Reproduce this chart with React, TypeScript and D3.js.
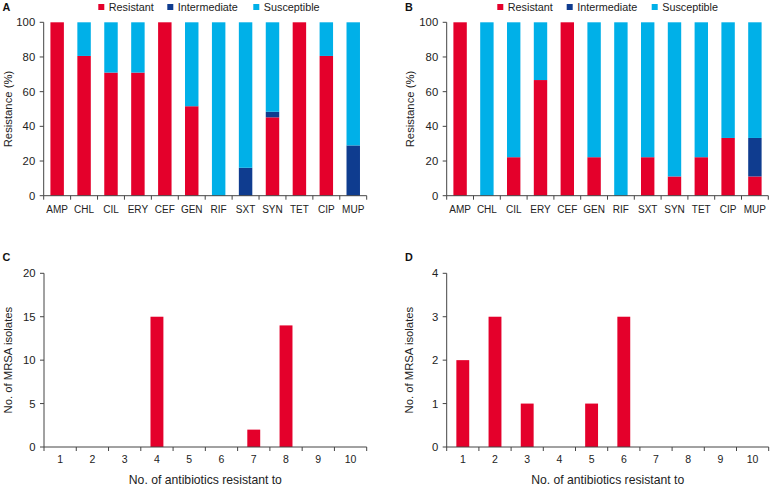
import React from "react";
import * as d3 from "d3";

const antibiotics = ["AMP", "CHL", "CIL", "ERY", "CEF", "GEN", "RIF", "SXT", "SYN", "TET", "CIP", "MUP"];
const aResistant = [100, 80.6, 71.0, 71.0, 100, 51.6, 0, 0, 45.2, 100, 80.6, 0];
const aIntermediate = [0, 0, 0, 0, 0, 0, 0, 16.1, 3.2, 0, 0, 29.0];
const bResistant = [100, 0, 22.2, 66.7, 100, 22.2, 0, 22.2, 11.1, 22.2, 33.3, 11.1];
const bIntermediate = [0, 0, 0, 0, 0, 0, 0, 0, 0, 0, 0, 22.2];
const resistCounts = ["1", "2", "3", "4", "5", "6", "7", "8", "9", "10"];
const cCounts = [0, 0, 0, 15, 0, 0, 2, 14, 0, 0];
const dCounts = [2, 3, 1, 0, 1, 3, 0, 0, 0, 0];
const legendItems = ["Resistant", "Intermediate", "Susceptible"];
const pctTicks = [0, 20, 40, 60, 80, 100];
const cTicks = [0, 5, 10, 15, 20];
const dTicks = [0, 1, 2, 3, 4];

const RED = "#e4002b";
const DARK = "#0f3c8f";
const LIGHT = "#00b0e8";
const AXIS = "#444";
const TEXT = "#222";
const FONT = "'Liberation Sans', Arial, Helvetica, sans-serif";

type Frame = { x0: number; x1: number; yTop: number; yBot: number };

function YAxis({ f, scale, ticks }: { f: Frame; scale: d3.ScaleLinear<number, number>; ticks: number[] }) {
  return (
    <g>
      <line x1={f.x0} x2={f.x0} y1={f.yTop} y2={f.yBot} stroke={AXIS} strokeWidth={1} />
      {ticks.map((t) => (
        <g key={t}>
          <line x1={f.x0 - 4} x2={f.x0} y1={scale(t)} y2={scale(t)} stroke={AXIS} strokeWidth={1} />
          <text x={f.x0 - 8.5} y={scale(t)} dy="0.36em" textAnchor="end" fontSize={11.3} fill={TEXT}>
            {t}
          </text>
        </g>
      ))}
    </g>
  );
}

function XAxis({ f, scale, labels, labelY, fontSize }: { f: Frame; scale: d3.ScaleBand<string>; labels: string[]; labelY: number; fontSize: number }) {
  const step = scale.step();
  const bounds = d3.range(labels.length + 1).map((i) => f.x0 + i * step);
  return (
    <g>
      <line x1={f.x0} x2={f.x1} y1={f.yBot} y2={f.yBot} stroke={AXIS} strokeWidth={1} />
      {bounds.map((b, i) => (
        <line key={i} x1={b} x2={b} y1={f.yBot} y2={f.yBot + 4} stroke={AXIS} strokeWidth={1} />
      ))}
      {labels.map((l) => (
        <text key={l} x={(scale(l) as number) + scale.bandwidth() / 2} y={labelY} textAnchor="middle" fontSize={fontSize} fill={TEXT}>
          {l}
        </text>
      ))}
    </g>
  );
}

function StackPanel({ f, resistant, intermediate, letter, legendX, yTitleX }: { f: Frame; resistant: number[]; intermediate: number[]; letter: string; legendX: number[]; yTitleX: number }) {
  const x = d3.scaleBand<string>().domain(antibiotics).range([f.x0, f.x1]).paddingInner(0.5).paddingOuter(0.25);
  const y = d3.scaleLinear().domain([0, 100]).range([f.yBot, f.yTop]);
  const rows = antibiotics.map((name, i) => ({ name, R: resistant[i], I: intermediate[i], S: 100 - resistant[i] - intermediate[i] }));
  const stack = d3.stack<any>().keys(["R", "I", "S"])(rows);
  const colors = [RED, DARK, LIGHT];
  return (
    <g>
      <text x={letter === "A" ? 2.5 : 405} y={10.7} fontSize={10.8} fontWeight="bold" fill="#111">
        {letter}
      </text>
      {legendItems.map((l, i) => (
        <g key={l}>
          <rect x={legendX[i]} y={4} width={6} height={6} fill={colors[i]} />
          <text x={legendX[i] + 10.5} y={10.7} fontSize={10.8} fill={TEXT}>
            {l}
          </text>
        </g>
      ))}
      {stack.map((layer, li) => (
        <g key={li} fill={colors[li]}>
          {layer.map((d, i) =>
            d[1] - d[0] > 0 ? (
              <rect key={i} x={x(antibiotics[i])} width={x.bandwidth()} y={y(d[1])} height={y(d[0]) - y(d[1])} />
            ) : null
          )}
        </g>
      ))}
      <YAxis f={f} scale={y} ticks={pctTicks} />
      <XAxis f={f} scale={x} labels={antibiotics} labelY={213.3} fontSize={10} />
      <text transform={`translate(${yTitleX},${(f.yTop + f.yBot) / 2}) rotate(-90)`} textAnchor="middle" fontSize={11.3} fill={TEXT}>
        Resistance (%)
      </text>
    </g>
  );
}

function CountPanel({ f, counts, ticks, letter, yTitleX, letterX }: { f: Frame; counts: number[]; ticks: number[]; letter: string; yTitleX: number; letterX: number }) {
  const x = d3.scaleBand<string>().domain(resistCounts).range([f.x0, f.x1]).paddingInner(0.6).paddingOuter(0.3);
  const y = d3.scaleLinear().domain([0, ticks[ticks.length - 1]]).range([f.yBot, f.yTop]);
  return (
    <g>
      <text x={letterX} y={260.7} fontSize={10.8} fontWeight="bold" fill="#111">
        {letter}
      </text>
      {counts.map((c, i) =>
        c > 0 ? <rect key={i} x={x(resistCounts[i])} width={x.bandwidth()} y={y(c)} height={y(0) - y(c)} fill={RED} /> : null
      )}
      <YAxis f={f} scale={y} ticks={ticks} />
      <XAxis f={f} scale={x} labels={resistCounts} labelY={463.3} fontSize={10.5} />
      <text transform={`translate(${yTitleX},${(f.yTop + f.yBot) / 2}) rotate(-90)`} textAnchor="middle" fontSize={11.3} fill={TEXT}>
        No. of MRSA isolates
      </text>
      <text x={(f.x0 + f.x1) / 2} y={483.5} textAnchor="middle" fontSize={12.2} fill={TEXT}>
        No. of antibiotics resistant to
      </text>
    </g>
  );
}

export default function App() {
  const fA: Frame = { x0: 43.7, x1: 366.7, yTop: 22.3, yBot: 195.7 };
  const fB: Frame = { x0: 446.7, x1: 768.3, yTop: 22.3, yBot: 195.7 };
  const fC: Frame = { x0: 44, x1: 366.7, yTop: 273.3, yBot: 447 };
  const fD: Frame = { x0: 446.7, x1: 768.7, yTop: 273.3, yBot: 447 };
  return (
    <svg width={770} height={486} style={{ position: "absolute", left: 0, top: 0, background: "#fff", fontFamily: FONT }}>
      <rect width={770} height={486} fill="#fff" />
      <StackPanel f={fA} resistant={aResistant} intermediate={aIntermediate} letter="A" legendX={[98.3, 167.3, 253.3]} yTitleX={11.5} />
      <StackPanel f={fB} resistant={bResistant} intermediate={bIntermediate} letter="B" legendX={[497.3, 566.7, 651.7]} yTitleX={413.5} />
      <CountPanel f={fC} counts={cCounts} ticks={cTicks} letter="C" yTitleX={11.5} letterX={2.5} />
      <CountPanel f={fD} counts={dCounts} ticks={dTicks} letter="D" yTitleX={413} letterX={405} />
    </svg>
  );
}
